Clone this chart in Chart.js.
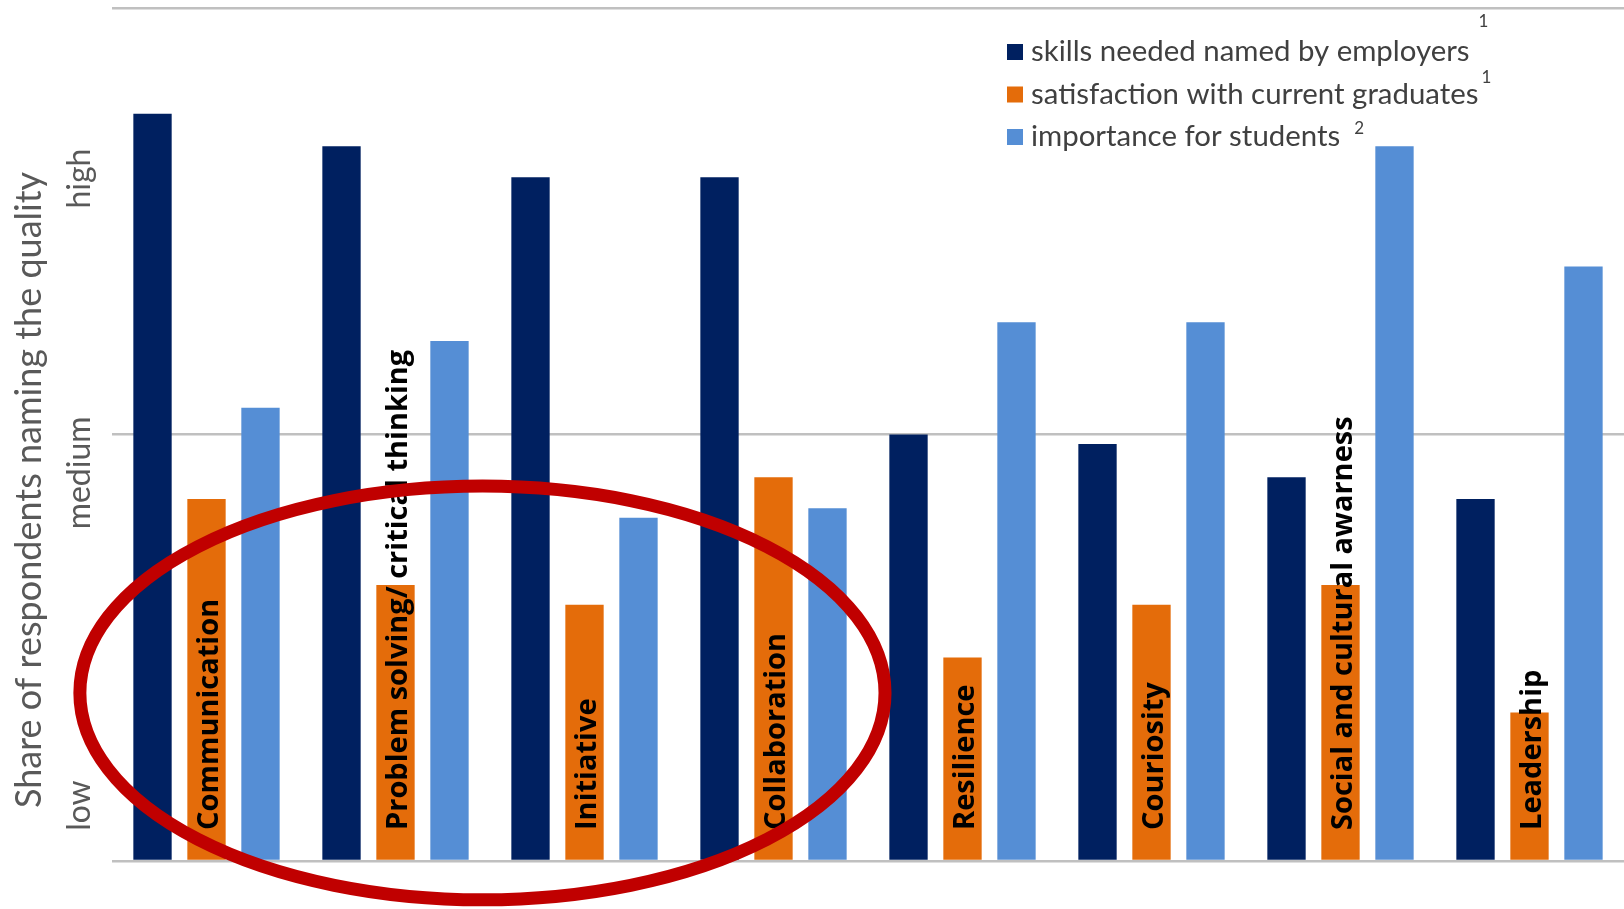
<!DOCTYPE html>
<html lang="en">
<head>
<meta charset="UTF-8">
<title>Skills named by employers, graduates and students</title>
<script src="https://cdn.jsdelivr.net/npm/chart.js"></script>
<style>
    html, body {
        margin: 0;
        padding: 0;
        background: #fff;
    }
    #wrap {
        position: relative;
        width: 1624px;
        height: 909px;
    }
</style>
</head>
<body>
<div id="wrap"><canvas id="chart"></canvas></div>
<script>
// data (0 = low, 1 = medium, 2 = high)
const categories = ['Communication', 'Problem solving/ critical thinking', 'Initiative', 'Collaboration',
    'Resilience', 'Couriosity', 'Social and cultural awarness', 'Leadership'];
const seriesNames = ['skills needed named by employers', 'satisfaction with current graduates', 'importance for students'];
const seriesNotes = ['1', '1', '2'];
const employers = [1.752, 1.676, 1.603, 1.603, 1.000, 0.978, 0.900, 0.849];
const graduates = [0.849, 0.647, 0.601, 0.900, 0.477, 0.601, 0.647, 0.348];
const students = [1.063, 1.219, 0.805, 0.827, 1.263, 1.263, 1.676, 1.394];
const levelNames = ['low', 'medium', 'high'];
const levelLabelAt = [0.13, 0.91, 1.6];
const axisTitle = 'Share of respondents naming the quality';

const colors = ['#002060', '#e46c0a', '#558ed5'];

// left side: axis title + low/medium/high
const levelAxis = {
    id: 'levelAxis',
    afterDraw(chart) {
        const ctx = chart.ctx;
        const y = chart.scales.y;
        ctx.save();
        ctx.fillStyle = '#595959';
        ctx.textAlign = 'center';
        ctx.textBaseline = 'middle';
        ctx.font = '36px Lato';
        ctx.translate(29, y.getPixelForValue(0.87));
        ctx.rotate(-Math.PI / 2);
        ctx.fillText(axisTitle, 0, 0);
        ctx.restore();

        levelNames.forEach((name, i) => {
            ctx.save();
            ctx.fillStyle = '#595959';
            ctx.textAlign = 'center';
            ctx.textBaseline = 'middle';
            ctx.font = '32px Lato';
            ctx.translate(80, y.getPixelForValue(levelLabelAt[i]));
            ctx.rotate(-Math.PI / 2);
            ctx.fillText(name, 0, 0);
            ctx.restore();
        });
    }
};

// category names written up the orange bars
const barLabels = {
    id: 'barLabels',
    afterDatasetsDraw(chart) {
        const ctx = chart.ctx;
        const base = chart.scales.y.getPixelForValue(0);
        const bars = chart.getDatasetMeta(1).data;
        ctx.save();
        ctx.fillStyle = '#000';
        ctx.font = 'bold 29px "Open Sans"';
        ctx.textAlign = 'left';
        ctx.textBaseline = 'alphabetic';
        bars.forEach((bar, i) => {
            ctx.save();
            ctx.translate(bar.x + 11, base - 31);
            ctx.rotate(-Math.PI / 2);
            ctx.fillText(categories[i], 0, 0);
            ctx.restore();
        });
        ctx.restore();
    }
};

// legend sitting inside the plot, top right
const insideLegend = {
    id: 'insideLegend',
    afterDraw(chart, args, opts) {
        const ctx = chart.ctx;
        ctx.save();
        chart.data.datasets.forEach((ds, i) => {
            const rowY = opts.top + i * opts.rowGap;
            ctx.fillStyle = ds.backgroundColor;
            ctx.fillRect(opts.left, rowY - 8, 16, 16);
            ctx.fillStyle = '#404040';
            ctx.font = '29.4px Lato';
            ctx.textAlign = 'left';
            ctx.textBaseline = 'middle';
            ctx.fillText(ds.label, opts.left + 24, rowY);
            const w = ctx.measureText(ds.label).width;
            ctx.font = '17px Lato';
            ctx.fillText(seriesNotes[i], opts.left + 24 + w + opts.noteGap[i], rowY + opts.noteRaise[i]);
        });
        ctx.restore();
    }
};

// red ring drawn over the first four groups, placed in data units
const ring = {
    id: 'ring',
    afterDraw(chart, args, opts) {
        const x = chart.scales.x;
        const y = chart.scales.y;
        const cx = x.getPixelForValue(opts.centerIndex);
        const cy = y.getPixelForValue(opts.centerLevel);
        const rx = (x.getPixelForValue(1) - x.getPixelForValue(0)) * opts.spanIndex;
        const ry = y.getPixelForValue(0) - y.getPixelForValue(opts.spanLevel);
        const ctx = chart.ctx;
        ctx.save();
        ctx.strokeStyle = '#c00000';
        ctx.lineWidth = 13;
        ctx.beginPath();
        ctx.ellipse(cx, cy, rx, ry, 0, 0, Math.PI * 2);
        ctx.stroke();
        ctx.restore();
    }
};

new Chart(document.getElementById('chart'), {
    type: 'bar',
    data: {
        labels: categories,
        datasets: [
            { label: seriesNames[0], data: employers, backgroundColor: colors[0] },
            { label: seriesNames[1], data: graduates, backgroundColor: colors[1] },
            { label: seriesNames[2], data: students, backgroundColor: colors[2] }
        ]
    },
    options: {
        responsive: true,
        maintainAspectRatio: false,
        animation: false,
        devicePixelRatio: 1,
        layout: { padding: { left: 112, right: 0, top: 8, bottom: 48 } },
        datasets: {
            bar: { categoryPercentage: 0.857, barPercentage: 0.71 }
        },
        scales: {
            x: {
                grid: { display: false, drawTicks: false },
                border: { display: false },
                ticks: { display: false }
            },
            y: {
                min: 0,
                max: 2,
                ticks: { display: false, stepSize: 1 },
                border: { display: false },
                grid: { color: '#c0c0c0', lineWidth: 2.5, drawTicks: false }
            }
        },
        plugins: {
            legend: { display: false },
            tooltip: { enabled: false },
            insideLegend: {
                left: 1007, top: 52, rowGap: 42.5,
                noteGap: [9, 3, 14], noteRaise: [-30, -17, -8]
            },
            ring: { centerIndex: 1.46, centerLevel: 0.394, spanIndex: 2.13, spanLevel: 0.485 }
        }
    },
    plugins: [levelAxis, barLabels, insideLegend, ring]
});
</script>
</body>
</html>
